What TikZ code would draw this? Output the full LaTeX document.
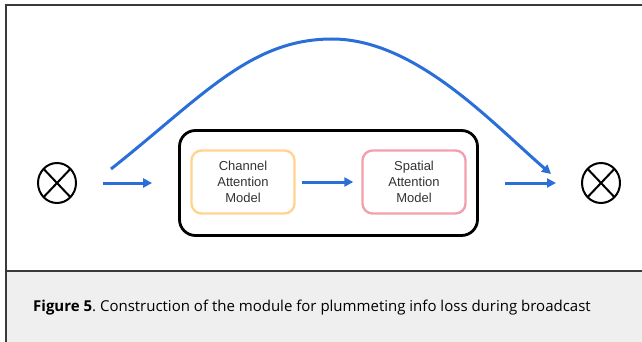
\documentclass[tikz,border=0pt]{standalone}
\usepackage{fontspec}
\setmainfont{Open Sans}
\newfontfamily\arialf{Liberation Sans}
\usetikzlibrary{arrows.meta,shapes.geometric}
\definecolor{flowblue}{HTML}{2A6FD8}
\definecolor{chanorange}{HTML}{FFD491}
\definecolor{spatpink}{HTML}{F2A0AE}
\definecolor{framegray}{HTML}{3A3A3A}
\definecolor{capgray}{HTML}{EFEFEF}
\definecolor{txtgray}{HTML}{333333}
\frenchspacing
\tikzset{
  flow/.style={draw=flowblue, line width=3pt, -{Triangle[length=9pt,width=9pt]}},
  otimes/.style={draw=black, line width=2pt, ellipse, minimum width=38pt, minimum height=40pt, inner sep=0pt,
    path picture={\draw[line width=2pt] (path picture bounding box.south west) -- (path picture bounding box.north east)
      (path picture bounding box.north west) -- (path picture bounding box.south east);}},
  attbox/.style={rounded corners=10pt, line width=2.4pt, minimum width=103pt, minimum height=63pt,
    align=center, font=\arialf\fontsize{13}{16}\selectfont, text=txtgray},
  container/.style={draw=black, rounded corners=16pt, line width=2.8pt, minimum width=298pt, minimum height=105pt}
}
\begin{document}
\begin{tikzpicture}[x=1pt,y=-1pt]
\useasboundingbox (0,0) rectangle (642,342);
% frame and caption band
\fill[capgray] (6,271) rectangle (642,342);
\draw[framegray, line width=1.2pt] (642,5) -- (6,5) -- (6,342);
\draw[framegray, line width=1.2pt] (6,271) -- (642,271);
\node[anchor=base west, inner sep=0pt, font=\fontsize{15}{18}\selectfont, text=black] (cap) at (33,311)
  {\textbf{Figure 5}. Construction of the module for plummeting info loss during broadcast};
% nodes
\node[otimes] (lc) at (57,183) {};
\node[otimes] (rc) at (601,183) {};
\node[container] (outer) at (328.5,183) {};
\node[attbox, draw=chanorange] (cam) at (243,182) {Channel\\Attention\\Model};
\node[attbox, draw=spatpink] (sam) at (414,182) {Spatial\\Attention\\Model};
% connectors
\coordinate (skipstart) at (111,169);
\coordinate (skiptop) at (332,39);
\coordinate (skipend) at (551,174);
\draw[flow] ([xshift=26pt]lc.east) -- ([xshift=-26pt]outer.west);
\draw[flow] (cam.east) ++(6,0) -- ([xshift=-8pt]sam.west);
\draw[flow] ([xshift=26pt]outer.east) -- ([xshift=-25pt]rc.west);
\draw[flow] (skipstart) .. controls (202,97) and (250,39) .. (skiptop)
  .. controls (415,39) and (491,122) .. (skipend);
\end{tikzpicture}
\end{document}
